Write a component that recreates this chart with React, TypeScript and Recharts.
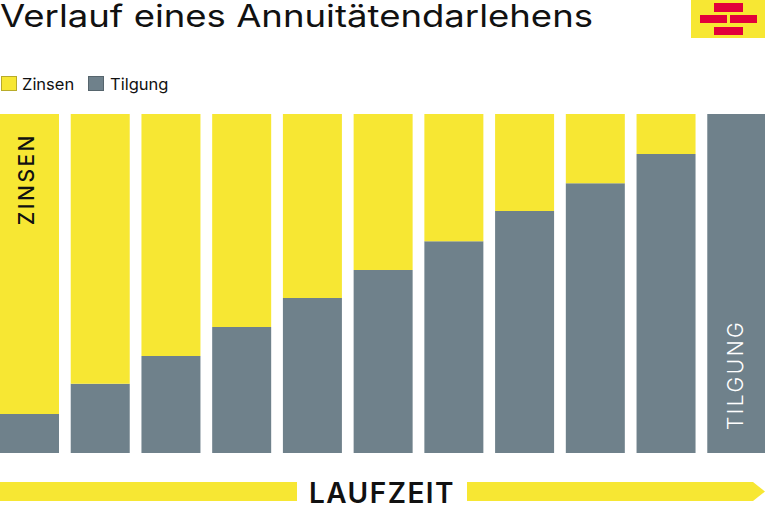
import { BarChart, Bar, XAxis, YAxis, LabelList } from "recharts";

// Anteile je Rate in Prozent (Laufzeit von links nach rechts)
const perioden = ["1", "2", "3", "4", "5", "6", "7", "8", "9", "10", "11"];
const zinsen = [88.5, 79.6, 71.4, 62.8, 54.3, 46.0, 37.5, 28.6, 20.4, 11.8, 0];
const tilgung = [11.5, 20.4, 28.6, 37.2, 45.7, 54.0, 62.5, 71.4, 79.6, 88.2, 100];

const GELB = "#f7e733";
const GRAU = "#6f818b";
const ROT = "#e2003a";
const FONT = "Inter, 'Open Sans', sans-serif";

const data = perioden.map((p, i) => ({
  periode: p,
  tilgung: tilgung[i],
  zinsen: zinsen[i],
}));

const ZinsenLabel = (props: any) => {
  const { x, y, index } = props;
  if (index !== 0) return null;
  const px = Number(x) + 34;
  const py = Number(y) + 19;
  return (
    <text
      x={px}
      y={py}
      transform={`rotate(-90 ${px} ${py})`}
      textAnchor="end"
      fontFamily={FONT}
      fontSize={21}
      fontWeight={500}
      letterSpacing={2.5}
      fill="#111"
    >
      ZINSEN
    </text>
  );
};

const TilgungLabel = (props: any) => {
  const { x, y, height, index } = props;
  if (index !== tilgung.length - 1) return null;
  const px = Number(x) + 36;
  const py = Number(y) + Number(height) - 23;
  return (
    <text
      x={px}
      y={py}
      transform={`rotate(-90 ${px} ${py})`}
      textAnchor="start"
      fontFamily={FONT}
      fontSize={21}
      fontWeight={300}
      letterSpacing={2.5}
      fill="#fff"
    >
      TILGUNG
    </text>
  );
};

export default function App() {
  return (
    <div
      style={{
        position: "absolute",
        left: 0,
        top: 0,
        width: 765,
        height: 510,
        background: "#fff",
        fontFamily: FONT,
        overflow: "hidden",
      }}
    >
      <svg width={765} height={510} style={{ position: "absolute", left: 0, top: 0 }}>
        <text
          x={0}
          y={27}
          fontFamily={FONT}
          fontSize={31}
          textLength={593}
          lengthAdjust="spacingAndGlyphs"
          fill="#111"
        >
          Verlauf eines Annuitätendarlehens
        </text>

        {/* Logo */}
        <rect x={691} y={0} width={74} height={38} fill={GELB} />
        <rect x={714} y={3} width={29} height={9} fill={ROT} />
        <rect x={700} y={15} width={27} height={8} fill={ROT} />
        <rect x={730} y={15} width={27} height={8} fill={ROT} />
        <rect x={714} y={27} width={29} height={8} fill={ROT} />

        {/* Legende */}
        <rect x={1.5} y={76.5} width={15} height={14} fill={GELB} stroke="#b8ab2a" strokeWidth={1} />
        <text x={22} y={90} fontFamily={FONT} fontSize={16.5} fill="#111">
          Zinsen
        </text>
        <rect x={88.5} y={76.5} width={15} height={14} fill={GRAU} stroke="#56656d" strokeWidth={1} />
        <text x={110} y={90} fontFamily={FONT} fontSize={16.5} fill="#111">
          Tilgung
        </text>

        {/* Laufzeit-Pfeil */}
        <rect x={0} y={482} width={297} height={19} fill={GELB} />
        <path d="M467 482 L753 482 L765 491.5 L753 501 L467 501 Z" fill={GELB} />
        <text
          x={382}
          y={503}
          textAnchor="middle"
          fontFamily={FONT}
          fontSize={28}
          fontWeight={600}
          letterSpacing={1.5}
          fill="#111"
        >
          LAUFZEIT
        </text>
      </svg>

      <div style={{ position: "absolute", left: 0, top: 0 }}>
        <BarChart
          width={765}
          height={510}
          data={data}
          margin={{ top: 114, bottom: 57, left: -6, right: -7 }}
          barCategoryGap={6}
        >
          <XAxis dataKey="periode" hide />
          <YAxis hide domain={[0, 100]} />
          <Bar dataKey="tilgung" stackId="a" fill={GRAU} isAnimationActive={false}>
            <LabelList dataKey="tilgung" content={TilgungLabel} />
          </Bar>
          <Bar dataKey="zinsen" stackId="a" fill={GELB} isAnimationActive={false}>
            <LabelList dataKey="zinsen" content={ZinsenLabel} />
          </Bar>
        </BarChart>
      </div>
    </div>
  );
}
